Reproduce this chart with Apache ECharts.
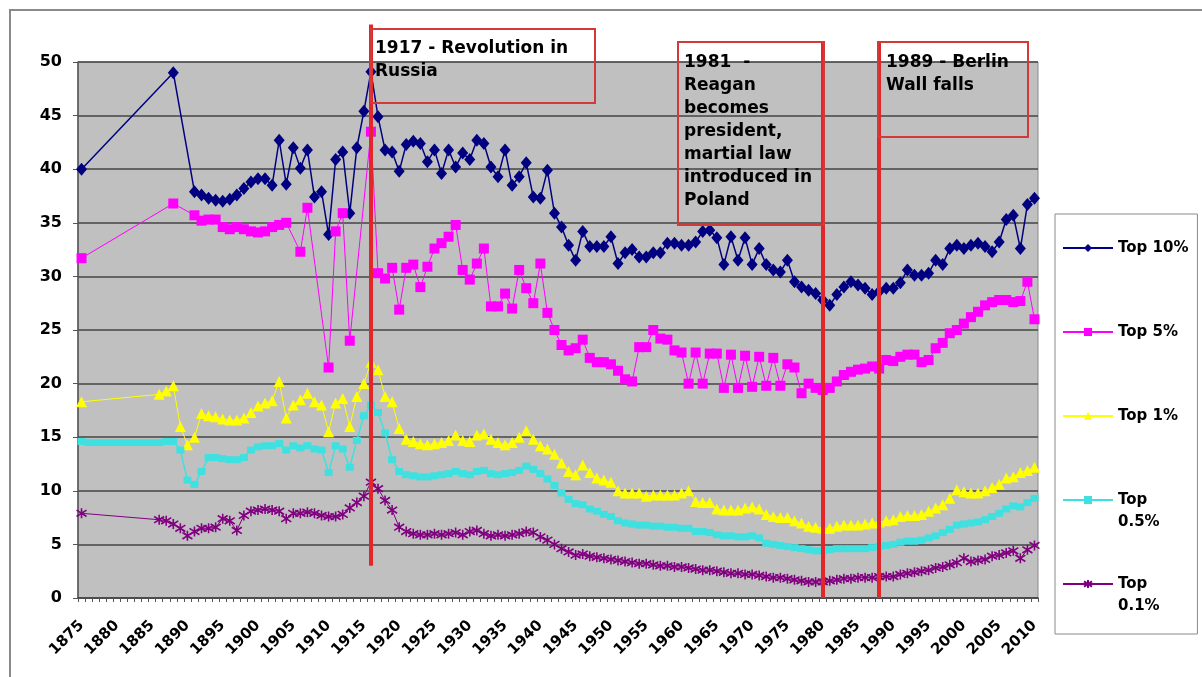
<!DOCTYPE html>
<html><head><meta charset="utf-8">
<script src="https://cdn.jsdelivr.net/npm/echarts@6/dist/echarts.min.js"></script>
<style>html,body{margin:0;padding:0;background:#fff}#c{width:1202px;height:677px}</style>
</head><body><div id="c"></div><script>
// Category years 1875..2010
const years = [];
for (let y = 1875; y <= 2010; y++) years.push(String(y));

const yTicks = [0, 5, 10, 15, 20, 25, 30, 35, 40, 45, 50];

const top10 = [
  40.0, null, null, null, null, null, null, null, null, null,
  null, null, null, 49.0, null, null, 37.9, 37.6, 37.3, 37.1,
  37.0, 37.2, 37.6, 38.2, 38.8, 39.1, 39.1, 38.5, 42.7, 38.6,
  42.0, 40.1, 41.8, 37.4, 37.9, 33.9, 40.9, 41.6, 35.9, 42.0,
  45.4, 49.1, 44.9, 41.8, 41.6, 39.8, 42.3, 42.6, 42.4, 40.7,
  41.8, 39.6, 41.8, 40.2, 41.5, 40.9, 42.7, 42.4, 40.2, 39.3,
  41.8, 38.5, 39.3, 40.6, 37.4, 37.3, 39.9, 35.9, 34.6, 32.9,
  31.5, 34.2, 32.8, 32.8, 32.8, 33.7, 31.2, 32.2, 32.5, 31.8,
  31.8, 32.2, 32.2, 33.1, 33.1, 32.9, 32.9, 33.2, 34.2, 34.3,
  33.6, 31.1, 33.7, 31.5, 33.6, 31.1, 32.6, 31.1, 30.6, 30.4,
  31.5, 29.5, 29.0, 28.7, 28.4, 27.8, 27.3, 28.3, 29.0, 29.5,
  29.2, 28.9, 28.3, 28.6, 28.9, 28.9, 29.4, 30.6, 30.1, 30.1,
  30.3, 31.5, 31.1, 32.6, 32.9, 32.6, 32.9, 33.1, 32.8, 32.3,
  33.2, 35.3, 35.7, 32.6, 36.7, 37.3
];

const top5 = [
  31.7, null, null, null, null, null, null, null, null, null,
  null, null, null, 36.8, null, null, 35.7, 35.2, 35.3, 35.3,
  34.6, 34.4, 34.6, 34.4, 34.2, 34.1, 34.2, 34.6, 34.8, 35.0,
  null, 32.3, 36.4, null, null, 21.5, 34.2, 35.9, 24.0, null,
  null, 43.5, 30.3, 29.8, 30.8, 26.9, 30.8, 31.1, 29.0, 30.9,
  32.6, 33.1, 33.7, 34.8, 30.6, 29.7, 31.2, 32.6, 27.2, 27.2,
  28.4, 27.0, 30.6, 28.9, 27.5, 31.2, 26.6, 25.0, 23.6, 23.1,
  23.3, 24.1, 22.4, 22.0, 22.0, 21.8, 21.2, 20.4, 20.2, 23.4,
  23.4, 25.0, 24.2, 24.1, 23.1, 22.9, 20.0, 22.9, 20.0, 22.8,
  22.8, 19.6, 22.7, 19.6, 22.6, 19.7, 22.5, 19.8, 22.4, 19.8,
  21.8, 21.5, 19.1, 20.0, 19.6, 19.4, 19.6, 20.2, 20.8, 21.1,
  21.3, 21.4, 21.6, 21.4, 22.2, 22.1, 22.5, 22.7, 22.7, 22.0,
  22.2, 23.3, 23.8, 24.7, 25.0, 25.6, 26.2, 26.7, 27.3, 27.6,
  27.8, 27.8, 27.6, 27.7, 29.5, 26.0
];

const top1 = [
  18.3, null, null, null, null, null, null, null, null, null,
  null, 19.0, 19.3, 19.8, 16.0, 14.3, 15.0, 17.2, 17.0, 16.9,
  16.7, 16.6, 16.6, 16.8, 17.3, 17.9, 18.2, 18.4, 20.2, 16.8,
  18.0, 18.5, 19.1, 18.3, 18.0, 15.5, 18.2, 18.6, 16.0, 18.8,
  20.0, 22.0, 21.3, 18.8, 18.3, 15.8, 14.8, 14.6, 14.4, 14.3,
  14.4, 14.5, 14.7, 15.2, 14.7, 14.6, 15.2, 15.3, 14.8, 14.5,
  14.3, 14.5, 15.0, 15.6, 14.8, 14.2, 13.9, 13.4, 12.6, 11.8,
  11.5, 12.4, 11.7, 11.2, 11.0, 10.8, 10.0, 9.8, 9.8, 9.8,
  9.5, 9.6, 9.6, 9.6, 9.6, 9.8, 10.0, 9.0, 8.9, 8.9,
  8.3, 8.2, 8.2, 8.2, 8.4, 8.5, 8.3, 7.8, 7.6, 7.5,
  7.5, 7.2, 7.0, 6.7, 6.6, 6.5, 6.5, 6.7, 6.8, 6.8,
  6.8, 6.9, 7.0, 7.1, 7.2, 7.3, 7.6, 7.7, 7.7, 7.8,
  8.1, 8.4, 8.7, 9.3, 10.1, 9.9, 9.8, 9.8, 10.0, 10.3,
  10.6, 11.2, 11.3, 11.7, 11.9, 12.2
];

const top05 = [
  14.6, 14.5, 14.5, 14.5, 14.5, 14.5, 14.5, 14.5, 14.5, 14.5,
  14.5, 14.5, 14.6, 14.6, 13.8, 11.0, 10.6, 11.8, 13.1, 13.1,
  13.0, 12.9, 12.9, 13.1, 13.8, 14.1, 14.2, 14.2, 14.4, 13.8,
  14.2, 14.0, 14.2, 13.9, 13.8, 11.7, 14.2, 13.9, 12.2, 14.7,
  17.0, 18.0, 17.3, 15.4, 12.9, 11.8, 11.5, 11.4, 11.3, 11.3,
  11.4, 11.5, 11.6, 11.8, 11.6, 11.5, 11.8, 11.9, 11.6, 11.5,
  11.6, 11.7, 11.9, 12.3, 12.0, 11.6, 11.1, 10.5, 9.8, 9.2,
  8.8, 8.7, 8.3, 8.1, 7.8, 7.6, 7.2, 7.0, 6.9, 6.8,
  6.8, 6.7, 6.7, 6.6, 6.6, 6.5, 6.5, 6.2, 6.2, 6.1,
  5.9, 5.8, 5.8, 5.7, 5.7, 5.8, 5.6, 5.1, 5.0, 4.9,
  4.8, 4.7, 4.6, 4.5, 4.4, 4.4, 4.5, 4.6, 4.6, 4.6,
  4.6, 4.6, 4.7, 4.8, 4.9, 5.0, 5.2, 5.3, 5.3, 5.4,
  5.6, 5.8, 6.1, 6.4, 6.8, 6.9, 7.0, 7.1, 7.3, 7.6,
  7.9, 8.3, 8.6, 8.5, 8.9, 9.3
];

const top01 = [
  7.9, null, null, null, null, null, null, null, null, null,
  null, 7.3, 7.2, 6.9, 6.5, 5.8, 6.2, 6.5, 6.5, 6.6,
  7.4, 7.2, 6.3, 7.7, 8.1, 8.2, 8.3, 8.2, 8.1, 7.4,
  7.9, 7.9, 8.0, 7.9, 7.7, 7.6, 7.6, 7.8, 8.4, 8.9,
  9.5, 10.8, 10.2, 9.1, 8.2, 6.6, 6.2, 6.0, 5.9, 5.9,
  6.0, 5.9, 6.0, 6.1, 5.9, 6.2, 6.3, 6.0, 5.8, 5.9,
  5.8, 5.9, 6.0, 6.2, 6.1, 5.7, 5.4, 5.0, 4.6, 4.3,
  4.0, 4.1, 3.9, 3.8, 3.7, 3.6, 3.5, 3.4, 3.3, 3.2,
  3.2, 3.1, 3.0, 3.0, 2.9, 2.9, 2.8, 2.7, 2.6, 2.6,
  2.5, 2.4, 2.3, 2.3, 2.2, 2.2, 2.1, 2.0, 1.9, 1.9,
  1.8, 1.7, 1.6, 1.5, 1.5, 1.5, 1.6, 1.7, 1.8, 1.8,
  1.9, 1.9, 1.9, 2.0, 2.0, 2.0, 2.2, 2.3, 2.4, 2.5,
  2.6, 2.8, 2.9, 3.1, 3.3, 3.7, 3.4, 3.5, 3.6, 3.9,
  4.0, 4.2, 4.4, 3.7, 4.5, 4.9
];

const seriesNames = ['Top 10%', 'Top 5%', 'Top 1%', 'Top 0.5%', 'Top 0.1%'];
const legendLabels = [' \nTop 10%\n ', ' \nTop 5%\n ', ' \nTop 1%\n ', ' \nTop\n0.5%', ' \nTop\n0.1%'];

// Event lines: category, bottom value, top value (top reaches above the 50 line)
const eventYears = ['1916', '1980', '1988'];
const eventFrom = [3, 0, 0];
const eventTo = [53.5, 51.9, 51.9];
const eventTexts = ['1917 - Revolution in\nRussia',
  '1981  -\nReagan\nbecomes\npresident,\nmartial law\nintroduced in\nPoland',
  '1989 - Berlin\nWall falls'];

const FONT = 'DejaVu Sans';
const RED = '#e3262a';
const BOXRED = '#d23a3a';

const star = 'path://M5,0L5,10M0.8,1.8L9.2,8.2M9.2,1.8L0.8,8.2';

function line(name, data, color, symbol, size, lw, itemExtra) {
  return {
    name, type: 'line', data,
    connectNulls: true,
    showSymbol: true, showAllSymbol: true,
    symbol, symbolSize: size,
    lineStyle: { color, width: lw },
    itemStyle: Object.assign({ color, borderWidth: 0 }, itemExtra || {}),
    emphasis: { disabled: true },
    animation: false
  };
}

const chart = echarts.init(document.getElementById('c'));
const labelMap = {};
seriesNames.forEach((n, i) => labelMap[n] = legendLabels[i]);

const markData = eventYears.map((y, i) => [
  { coord: [years.indexOf(y), eventFrom[i]] }, { coord: [years.indexOf(y), eventTo[i]] }
]);

// second, invisible grid sharing the same scale but taller, so the event lines can rise above 50
const PLOT_BOTTOM = 79, PLOT_TOP = 62, PLOT_H = 677 - PLOT_BOTTOM - PLOT_TOP;
const EXT_MAX = 54;
const EXT_TOP = 677 - PLOT_BOTTOM - PLOT_H * EXT_MAX / 50;

chart.setOption({
  backgroundColor: '#ffffff',
  animation: false,
  grid: [{
    left: 78, right: 164, top: PLOT_TOP, bottom: PLOT_BOTTOM,
    show: true, backgroundColor: '#c0c0c0',
    borderColor: '#8a8a8a', borderWidth: 1
  }, {
    left: 78, right: 164, top: EXT_TOP, bottom: PLOT_BOTTOM, show: false
  }],
  xAxis: [{
    type: 'category', data: years, boundaryGap: true,
    axisLine: { lineStyle: { color: '#444', width: 1.5 } },
    axisTick: { show: true, interval: 0, length: 4, lineStyle: { color: '#555' } },
    axisLabel: {
      interval: 4, rotate: 45, margin: 25,
      fontFamily: FONT, fontWeight: 'bold', fontSize: 15, color: '#000'
    },
    splitLine: { show: false }
  }, {
    type: 'category', data: years, boundaryGap: true, gridIndex: 1, show: false
  }],
  yAxis: [{
    type: 'value', min: yTicks[0], max: yTicks[yTicks.length - 1], interval: 5,
    axisLine: { show: true, lineStyle: { color: '#555', width: 1.5 } },
    axisTick: { show: true, length: 5, lineStyle: { color: '#555' } },
    axisLabel: { margin: 16, fontFamily: FONT, fontWeight: 'bold', fontSize: 16, color: '#000' },
    splitLine: { lineStyle: { color: '#444', width: 1.5 } }
  }, {
    type: 'value', min: 0, max: EXT_MAX, gridIndex: 1, show: false, splitLine: { show: false }
  }],
  legend: {
    data: seriesNames,
    orient: 'vertical', left: 1055, top: 214,
    padding: [1, 9, 17, 7],
    itemGap: 18, itemWidth: 50, itemHeight: 10,
    backgroundColor: '#fff', borderColor: '#8a8a8a', borderWidth: 1,
    selectedMode: false,
    formatter: n => labelMap[n],
    textStyle: { fontFamily: FONT, fontWeight: 'bold', fontSize: 15, lineHeight: 22, color: '#000' }
  },
  series: [
    line(seriesNames[0], top10, '#000080', 'diamond', [11, 13], 1.5),
    line(seriesNames[1], top5, '#ff00ff', 'rect', 10, 1),
    line(seriesNames[2], top1, '#ffff00', 'triangle', 11, 1),
    line(seriesNames[3], top05, '#3fe0e0', 'rect', [8, 7], 1.5),
    line(seriesNames[4], top01, '#800080', star, 10, 1, { color: 'transparent', borderColor: '#800080', borderWidth: 1.6 }),
    {
      name: 'events', type: 'line', xAxisIndex: 1, yAxisIndex: 1,
      data: years.map(() => null), showSymbol: false, z: 20, silent: true,
      markLine: {
        silent: true, animation: false, symbol: ['none', 'none'],
        label: { show: false },
        lineStyle: { color: RED, width: 4, type: 'solid', opacity: 1 },
        data: markData
      }
    }
  ],
  graphic: [
    { type: 'rect', z: 0, silent: true, shape: { x: 10, y: 10, width: 1240, height: 720 },
      style: { fill: 'none', stroke: '#8a8a8a', lineWidth: 2 } },
    { type: 'rect', z: 100, silent: true, shape: { x: 371, y: 29, width: 224, height: 74 },
      style: { fill: 'none', stroke: BOXRED, lineWidth: 2 } },
    { type: 'rect', z: 100, silent: true, shape: { x: 678, y: 42, width: 146, height: 183 },
      style: { fill: 'none', stroke: BOXRED, lineWidth: 2 } },
    { type: 'rect', z: 100, silent: true, shape: { x: 878, y: 42, width: 150, height: 95 },
      style: { fill: 'none', stroke: BOXRED, lineWidth: 2 } },
    { type: 'text', z: 101, silent: true, left: 375, top: 37,
      style: { text: eventTexts[0], fontFamily: FONT, fontWeight: 'bold', fontSize: 17, lineHeight: 23, fill: '#000' } },
    { type: 'text', z: 101, silent: true, left: 684, top: 51,
      style: { text: eventTexts[1], fontFamily: FONT, fontWeight: 'bold', fontSize: 17, lineHeight: 23, fill: '#000' } },
    { type: 'text', z: 101, silent: true, left: 886, top: 51,
      style: { text: eventTexts[2], fontFamily: FONT, fontWeight: 'bold', fontSize: 17, lineHeight: 23, fill: '#000' } }
  ]
});
</script></body></html>
